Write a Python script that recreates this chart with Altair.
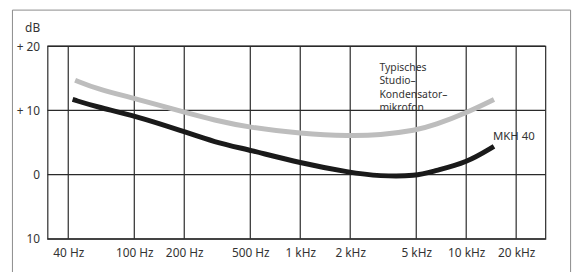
import altair as alt
import pandas as pd

FONT = "Noto Sans"

# Frequency response
freq_studio = [44, 60, 100, 200, 300, 500, 1000, 2000, 3000, 5000, 6450, 10000, 14700]
db_studio = [14.7, 13.3, 11.9, 9.7, 8.5, 7.3, 6.4, 6.0, 6.15, 6.9, 7.7, 9.6, 11.7]

freq_mkh = [42.5, 60, 100, 200, 300, 500, 1000, 2000, 3000, 5000, 6450, 10000, 14700]
db_mkh = [11.7, 10.5, 9.2, 6.7, 5.1, 3.8, 1.8, 0.3, -0.25, -0.25, 0.6, 1.8, 4.4]

series_names = ["Typisches Studio-Kondensatormikrofon", "MKH 40"]
series_colors = ["#bdbdbd", "#1a1a1a"]

x_ticks = [40, 100, 200, 500, 1000, 2000, 5000, 10000, 20000]
x_labels = ["40 Hz", "100 Hz", "200 Hz", "500 Hz", "1 kHz", "2 kHz", "5 kHz", "10 kHz", "20 kHz"]
y_ticks = [-10, 0, 10, 20]
y_labels = ["10", "0", "+ 10", "+ 20"]

ann_studio_text = ["Typisches\nStudio–\nKondensator–\nmikrofon"]
ann_studio_freq = [3000]
ann_studio_db = [16.15]
ann_mkh_text = ["MKH 40"]
ann_mkh_freq = [14500]
ann_mkh_db = [5.45]

curves = pd.concat([
    pd.DataFrame({"f": freq_studio, "db": db_studio, "s": series_names[0]}),
    pd.DataFrame({"f": freq_mkh, "db": db_mkh, "s": series_names[1]}),
])

x_scale = alt.Scale(type="log", domain=[30, 30000], nice=False)
y_scale = alt.Scale(domain=[-10, 20], nice=False)


def label_expr(vals, labs):
    parts = [f"datum.value == {v} ? '{l}'" for v, l in zip(vals, labs)]
    return " : ".join(parts) + " : ''"


x_axis = alt.Axis(values=x_ticks, labelExpr=label_expr(x_ticks, x_labels), grid=False,
                  domain=False, ticks=False, tickSize=0, labelPadding=9, title=None,
                  labelFont=FONT, labelFontSize=12, labelColor="#333", labelFlush=False,
                  labelOverlap=False)
y_axis = alt.Axis(values=y_ticks, labelExpr=label_expr(y_ticks, y_labels), grid=False,
                  domain=False, ticks=False, tickSize=0, labelPadding=8, title="dB",
                  titleAngle=0, titleAlign="right", titleBaseline="middle", titleX=-8,
                  titleY=-19, titleFont=FONT, titleFontSize=12, titleFontWeight="normal",
                  titleColor="#333", labelFont=FONT, labelFontSize=12, labelColor="#333",
                  labelOverlap=False)

X = alt.X("f:Q", scale=x_scale, axis=x_axis)
Y = alt.Y("db:Q", scale=y_scale, axis=y_axis)

text_studio = alt.Chart(pd.DataFrame({"t": ann_studio_text, "f": ann_studio_freq, "db": ann_studio_db})).mark_text(
    align="left", baseline="alphabetic", lineBreak="\n", lineHeight=13.5,
    font=FONT, fontSize=10.5, color="#333"
).encode(x=X, y=Y, text="t:N")

text_mkh = alt.Chart(pd.DataFrame({"t": ann_mkh_text, "f": ann_mkh_freq, "db": ann_mkh_db})).mark_text(
    align="left", baseline="alphabetic", font=FONT, fontSize=11.5, color="#333"
).encode(x=X, y=Y, text="t:N")

vgrid = alt.Chart(pd.DataFrame({"f": x_ticks})).mark_rule(color="#2a2a2a", strokeWidth=1.2).encode(x=X)
hgrid = alt.Chart(pd.DataFrame({"db": y_ticks})).mark_rule(color="#2a2a2a", strokeWidth=1.2).encode(y=Y)

lines = alt.Chart(curves).mark_line(strokeWidth=5, interpolate="basis", strokeCap="butt").encode(
    x=X, y=Y,
    color=alt.Color("s:N", scale=alt.Scale(domain=series_names, range=series_colors), legend=None),
    detail="s:N",
)

dummy = pd.DataFrame({"a": [0]})
border_left = alt.Chart(dummy).mark_rule(color="#8a8a8a", strokeWidth=1).encode(
    x=alt.value(-35.5), y=alt.value(-36.5), y2=alt.value(230))
border_right = alt.Chart(dummy).mark_rule(color="#8a8a8a", strokeWidth=1).encode(
    x=alt.value(529.5), y=alt.value(-36.5), y2=alt.value(230))
border_top = alt.Chart(dummy).mark_rule(color="#8a8a8a", strokeWidth=1).encode(
    x=alt.value(-35.5), x2=alt.value(529.5), y=alt.value(-36.5))

chart = alt.layer(
    text_studio, text_mkh, vgrid, hgrid, lines, border_left, border_right, border_top
).properties(
    width=504, height=195,
    autosize=alt.AutoSizeParams(type="none"),
    padding={"left": 40, "top": 37, "right": 32, "bottom": 32},
    background="white",
).configure_view(stroke="#2a2a2a", strokeWidth=1.2)

chart.save("out.html", embed_options={"renderer": "svg", "actions": False})
